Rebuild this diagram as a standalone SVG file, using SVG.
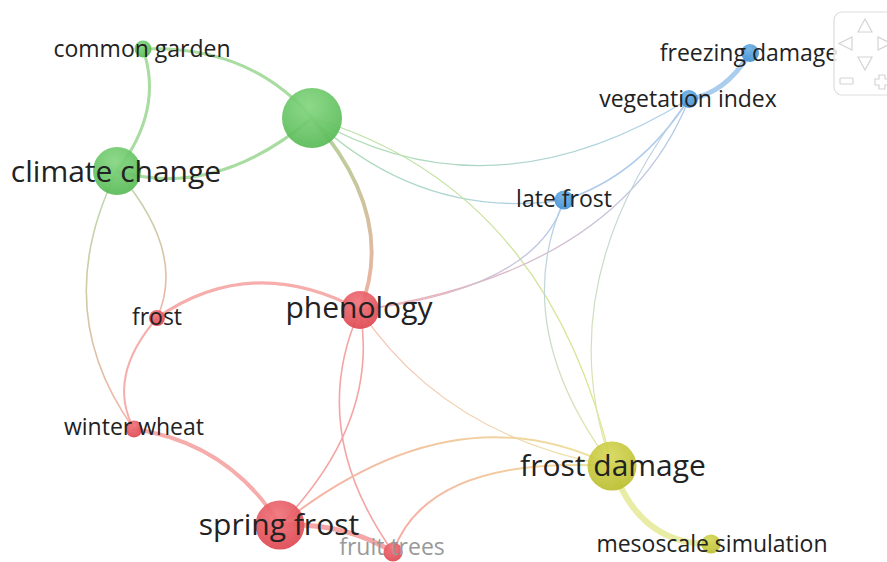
<svg xmlns="http://www.w3.org/2000/svg" width="887" height="562" viewBox="0 0 887 562">
<style>
.e{fill:none;stroke-linecap:round}
.lbl{font-family:"Open Sans","DejaVu Sans",sans-serif;fill:#222;text-anchor:middle}
.s{font-size:23px}
.b{font-size:30px}
.nav{fill:none;stroke:#d4d4d4;stroke-width:1.2}
</style>
<defs>
<radialGradient id="gG" cx="0.45" cy="0.3" r="0.75"><stop offset="0" stop-color="#84d680"/><stop offset="1" stop-color="#55b853"/></radialGradient>
<radialGradient id="gR" cx="0.45" cy="0.3" r="0.75"><stop offset="0" stop-color="#f0737a"/><stop offset="1" stop-color="#dc444e"/></radialGradient>
<radialGradient id="gB" cx="0.45" cy="0.3" r="0.75"><stop offset="0" stop-color="#6eb2e6"/><stop offset="1" stop-color="#3f8dd0"/></radialGradient>
<radialGradient id="gY" cx="0.45" cy="0.3" r="0.75"><stop offset="0" stop-color="#d6d85a"/><stop offset="1" stop-color="#b9bc2c"/></radialGradient>
<linearGradient id="l4" gradientUnits="userSpaceOnUse" x1="312" y1="118" x2="360" y2="310"><stop offset="0" stop-color="#b0d49a"/><stop offset="1" stop-color="#f0b0a2"/></linearGradient>
<linearGradient id="l5" gradientUnits="userSpaceOnUse" x1="312" y1="118" x2="689" y2="99"><stop offset="0" stop-color="#acdcaa"/><stop offset="1" stop-color="#b0d0ee"/></linearGradient>
<linearGradient id="l6" gradientUnits="userSpaceOnUse" x1="312" y1="118" x2="564" y2="200"><stop offset="0" stop-color="#acdcaa"/><stop offset="1" stop-color="#b0d0ee"/></linearGradient>
<linearGradient id="l7" gradientUnits="userSpaceOnUse" x1="312" y1="118" x2="612" y2="466"><stop offset="0" stop-color="#b8e0a6"/><stop offset="1" stop-color="#e2e68e"/></linearGradient>
<linearGradient id="l8" gradientUnits="userSpaceOnUse" x1="117" y1="171" x2="157" y2="318"><stop offset="0" stop-color="#bcd8aa"/><stop offset="1" stop-color="#eeb6a4"/></linearGradient>
<linearGradient id="l9" gradientUnits="userSpaceOnUse" x1="117" y1="171" x2="134" y2="429"><stop offset="0" stop-color="#b6dbaa"/><stop offset="1" stop-color="#f1b4a6"/></linearGradient>
<linearGradient id="l15" gradientUnits="userSpaceOnUse" x1="360" y1="310" x2="612" y2="466"><stop offset="0" stop-color="#f6bcb0"/><stop offset="1" stop-color="#ece6aa"/></linearGradient>
<linearGradient id="l16" gradientUnits="userSpaceOnUse" x1="280" y1="525" x2="612" y2="466"><stop offset="0" stop-color="#f6aca4"/><stop offset="1" stop-color="#eee49e"/></linearGradient>
<linearGradient id="l17" gradientUnits="userSpaceOnUse" x1="393" y1="552" x2="612" y2="466"><stop offset="0" stop-color="#f6aca4"/><stop offset="1" stop-color="#eee49e"/></linearGradient>
<linearGradient id="l22" gradientUnits="userSpaceOnUse" x1="689" y1="99" x2="360" y2="310"><stop offset="0" stop-color="#b0cdec"/><stop offset="1" stop-color="#f4acb0"/></linearGradient>
<linearGradient id="l23" gradientUnits="userSpaceOnUse" x1="564" y1="200" x2="360" y2="310"><stop offset="0" stop-color="#b0cdec"/><stop offset="1" stop-color="#f4acb0"/></linearGradient>
<linearGradient id="l24" gradientUnits="userSpaceOnUse" x1="564" y1="200" x2="612" y2="466"><stop offset="0" stop-color="#b0cdec"/><stop offset="1" stop-color="#e4e8a2"/></linearGradient>
<linearGradient id="l25" gradientUnits="userSpaceOnUse" x1="689" y1="99" x2="612" y2="466"><stop offset="0" stop-color="#b0cdec"/><stop offset="1" stop-color="#e4e8a2"/></linearGradient>
</defs>
<rect width="887" height="562" fill="#ffffff"/>
<g id="connectors">
<path class="e" d="M143,49 Q250,45 312,118" stroke="#a8dca0" stroke-width="3"/>
<path class="e" d="M143,49 Q164,110 117,171" stroke="#a8dca0" stroke-width="3"/>
<path class="e" d="M117,171 Q215,200 312,118" stroke="#a8dca0" stroke-width="3.2"/>
<path class="e" d="M312,118 Q398,216 360,310" stroke="url(#l4)" stroke-width="3.8"/>
<path class="e" d="M312,118 Q490,222 689,99" stroke="url(#l5)" stroke-width="1.3"/>
<path class="e" d="M312,118 Q422,221 564,200" stroke="url(#l6)" stroke-width="1.3"/>
<path class="e" d="M312,118 Q548,188 612,466" stroke="url(#l7)" stroke-width="1.3"/>
<path class="e" d="M117,171 Q187,252 157,318" stroke="url(#l8)" stroke-width="1.6"/>
<path class="e" d="M117,171 Q48,310 134,429" stroke="url(#l9)" stroke-width="1.6"/>
<path class="e" d="M157,318 Q252,252 360,310" stroke="#f6aeac" stroke-width="3.2"/>
<path class="e" d="M157,318 Q106,377 134,429" stroke="#f6aeac" stroke-width="2"/>
<path class="e" d="M134,429 Q229,443 280,525" stroke="#f6acaa" stroke-width="4"/>
<path class="e" d="M360,310 Q380,422 280,525" stroke="#f4a4a4" stroke-width="1.6"/>
<path class="e" d="M360,310 Q306,429 393,552" stroke="#f4a4a4" stroke-width="1.6"/>
<path class="e" d="M360,310 Q444,436 612,466" stroke="url(#l15)" stroke-width="1.3"/>
<path class="e" d="M280,525 Q454,387 612,466" stroke="url(#l16)" stroke-width="2"/>
<path class="e" d="M393,552 Q428,455 612,466" stroke="url(#l17)" stroke-width="2"/>
<path class="e" d="M280,525 Q344,522 393,552" stroke="#f6a6a6" stroke-width="5"/>
<path class="e" d="M612,466 Q639,545 711,544" stroke="#e8eca4" stroke-width="6"/>
<path class="e" d="M689,99 Q725,94 750,53" stroke="#aacdee" stroke-width="5"/>
<path class="e" d="M689,99 Q638,177 564,200" stroke="#aecbec" stroke-width="1.5"/>
<path class="e" d="M689,99 Q620,272 360,310" stroke="url(#l22)" stroke-width="1.3"/>
<path class="e" d="M564,200 Q538,289 360,310" stroke="url(#l23)" stroke-width="1.3"/>
<path class="e" d="M564,200 Q508,327 612,466" stroke="url(#l24)" stroke-width="1.2"/>
<path class="e" d="M689,99 Q546,282 612,466" stroke="url(#l25)" stroke-width="1.2"/>
</g>
<g id="node-big-green"><circle cx="312" cy="118" r="30" fill="url(#gG)" fill-opacity="0.92"/></g>
<g id="node-common-garden"><circle cx="143" cy="49" r="8.5" fill="url(#gG)" fill-opacity="0.92"/><text class="lbl s" x="142" y="57">common garden</text></g>
<g id="node-climate-change"><circle cx="117" cy="171" r="24" fill="url(#gG)" fill-opacity="0.92"/><text class="lbl b" x="116" y="182">climate change</text></g>
<g id="node-freezing-damage"><circle cx="750" cy="53" r="9" fill="url(#gB)" fill-opacity="0.92"/><text class="lbl s" x="749" y="61">freezing damage</text></g>
<g id="node-vegetation-index"><circle cx="689" cy="99" r="9" fill="url(#gB)" fill-opacity="0.92"/><text class="lbl s" x="688" y="107">vegetation index</text></g>
<g id="node-late-frost"><circle cx="564" cy="200" r="9.5" fill="url(#gB)" fill-opacity="0.92"/><text class="lbl s" x="564" y="207">late frost</text></g>
<g id="node-phenology"><circle cx="360" cy="310" r="19" fill="url(#gR)" fill-opacity="0.92"/><text class="lbl b" x="359" y="318">phenology</text></g>
<g id="node-frost"><circle cx="157" cy="318" r="8" fill="url(#gR)" fill-opacity="0.92"/><text class="lbl s" x="157" y="325">frost</text></g>
<g id="node-winter-wheat"><circle cx="134" cy="429" r="8.5" fill="url(#gR)" fill-opacity="0.92"/><text class="lbl s" x="134" y="435">winter wheat</text></g>
<g id="node-spring-frost"><circle cx="280" cy="525" r="24.5" fill="url(#gR)" fill-opacity="0.92"/><text class="lbl b" x="279" y="535">spring frost</text></g>
<g id="node-fruit-trees"><circle cx="393" cy="552" r="9.5" fill="url(#gR)" fill-opacity="0.92"/><text class="lbl s" x="392" y="555" style="fill:#999999">fruit trees</text></g>
<g id="node-frost-damage"><circle cx="612" cy="466" r="24.5" fill="url(#gY)" fill-opacity="0.92"/><text class="lbl b" x="613" y="476">frost damage</text></g>
<g id="node-mesoscale-simulation"><circle cx="711" cy="544" r="9.5" fill="url(#gY)" fill-opacity="0.92"/><text class="lbl s" x="712" y="552">mesoscale simulation</text></g>
<g id="navigation">
<rect x="834" y="12" width="62" height="83" rx="8" fill="#ffffff" fill-opacity="0.85" stroke="#dddddd" stroke-width="1.2"/>
<polygon class="nav" points="858,32 872,32 865,19"/>
<polygon class="nav" points="852,37 852,50 839,43.5"/>
<polygon class="nav" points="878,37 878,50 891,43.5"/>
<polygon class="nav" points="858,57 872,57 865,70"/>
<rect class="nav" x="840" y="78" width="13" height="6" rx="1"/>
<path class="nav" d="M879,75 h6 v4 h4 v6 h-4 v4 h-6 v-4 h-4 v-6 h4 z"/>
</g>
</svg>
